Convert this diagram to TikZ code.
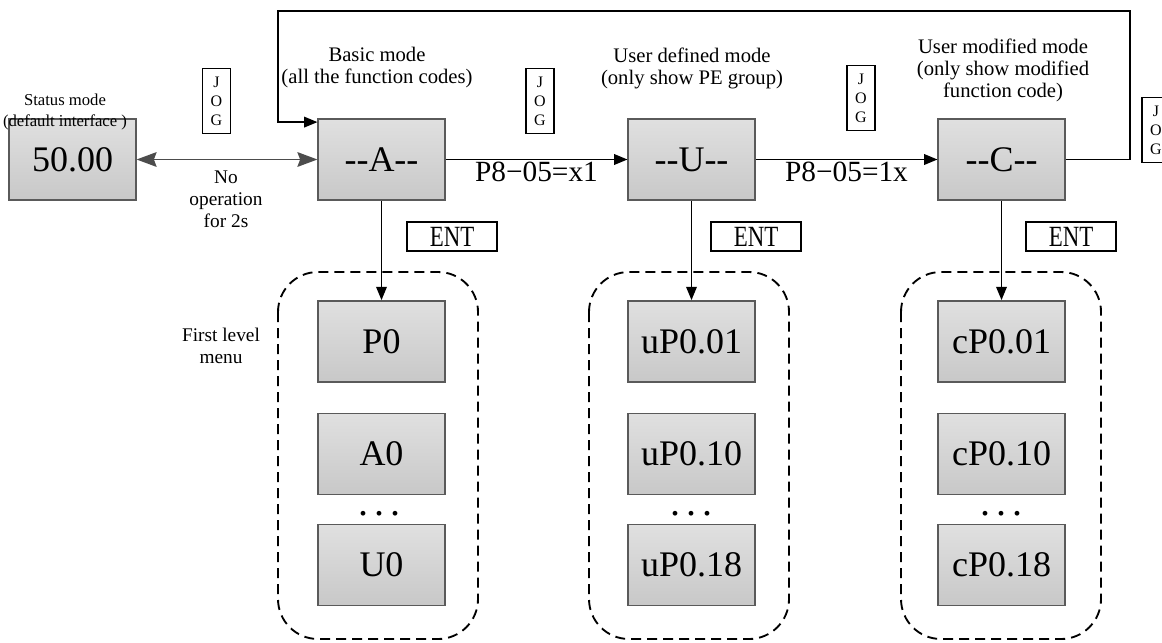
\documentclass[tikz,border=0pt]{standalone}
\usepackage{fontspec}
\setmainfont{Liberation Serif}
\usetikzlibrary{arrows.meta}
\definecolor{boxtop}{RGB}{224,224,224}
\definecolor{boxbot}{RGB}{200,200,200}
\definecolor{boxedge}{RGB}{90,90,90}
\tikzset{
  modebox/.style={draw=boxedge,line width=1.1pt,top color=boxtop,bottom color=boxbot,
    minimum width=95pt,minimum height=61pt,inner sep=0pt,font=\fontsize{27}{27}\selectfont},
  keybox/.style={draw=black,line width=1.5pt,fill=white,minimum width=67pt,minimum height=22pt,
    inner sep=0pt,font=\fontsize{22}{22}\selectfont},
  jogbox/.style={draw=black,line width=1.1pt,minimum width=21pt,minimum height=49pt,inner sep=0pt,
    align=center,font=\fontsize{12}{14.2}\selectfont},
  caption/.style={align=center,font=\fontsize{15.5}{16.5}\selectfont},
  cond/.style={font=\fontsize{22}{22}\selectfont,inner sep=1pt},
  group/.style={draw=black,line width=1.4pt,dash pattern=on 7.5pt off 4.5pt,rounded corners=30pt},
  arr/.style={draw=black,line width=1.1pt,-{Triangle[length=10pt,width=8pt]}},
  both/.style={draw=black!70,line width=1.3pt,{Stealth[length=15pt,width=11pt,inset=2pt]}-{Stealth[length=15pt,width=11pt,inset=2pt]}}
}
\newcommand{\keytext}[1]{\scalebox{0.78}[1]{#1}}

\begin{document}
\begin{tikzpicture}[x=0.75pt,y=-0.75pt]
  \useasboundingbox (0,0) rectangle (1162,642);

  % Dashed groups of first level menus
  \draw[group] (278,272) rectangle (478,639);
  \draw[group] (589,272) rectangle (789,639);
  \draw[group] (901,272) rectangle (1101,639);

  % Mode boxes
  \node[modebox] (st) at (72.5,159.5) {50.00};
  \node[modebox] (A) at (381.5,159.5) {-{}-A-{}-};
  \node[modebox] (U) at (691.5,159.5) {-{}-U-{}-};
  \node[modebox] (C) at (1001.5,159.5) {-{}-C-{}-};

  % Mode captions
  \node[caption,font=\fontsize{12.5}{16}\selectfont] (stcap) at (65,112) {Status mode\\(default interface )};
  \node[caption] (Acap) at (377,68) {Basic mode\\(all the function codes)};
  \node[caption] (Ucap) at (692,68) {User defined mode\\(only show PE group)};
  \node[caption] (Ccap) at (1003,70) {User modified mode\\(only show modified\\function code)};

  % JOG keys
  \node[jogbox] (jog1) at (216.5,101) {J\\O\\G};
  \node[jogbox] (jog2) at (540,101) {J\\O\\G};
  \node[jogbox] (jog3) at (861,98) {J\\O\\G};
  \node[jogbox] (jog4) at (1156,130) {J\\O\\G};

  % First level menus
  \node[modebox] (P0) at (381.5,341.5) {P0};
  \node[modebox] (A0) at (381.5,454) {A0};
  \node[modebox] (U0) at (381.5,565) {U0};
  \node[modebox] (uP01) at (691.5,341.5) {uP0.01};
  \node[modebox] (uP10) at (691.5,454) {uP0.10};
  \node[modebox] (uP18) at (691.5,565) {uP0.18};
  \node[modebox] (cP01) at (1001.5,341.5) {cP0.01};
  \node[modebox] (cP10) at (1001.5,454) {cP0.10};
  \node[modebox] (cP18) at (1001.5,565) {cP0.18};
  \foreach \gx/\gn in {379/adots,691/udots,1001/cdots}
    \node[font=\fontsize{30}{30}\selectfont] (\gn) at (\gx,514) {.\hspace{4.5pt}.\hspace{4.5pt}.};
  \node[caption,font=\fontsize{14.5}{16.5}\selectfont] (menucap) at (221,346) {First level\\menu};

  % ENT keys
  \node[keybox] (entA) at (452,236.5) {\keytext{ENT}};
  \node[keybox] (entU) at (756,236.5) {\keytext{ENT}};
  \node[keybox] (entC) at (1071,236.5) {\keytext{ENT}};

  % Connections
  \draw[both] (st) -- (A);
  \node[caption,font=\fontsize{14.5}{16.5}\selectfont] (idle) at (226,199) {No\\operation\\for 2s};
  \draw[arr] (A) -- node[cond,below] (cond1) {P8−05=x1} (U);
  \draw[arr] (U) -- node[cond,below] (cond2) {P8−05=1x} (C);
  \draw[arr] (A) -- (P0);
  \draw[arr] (U) -- (uP01);
  \draw[arr] (C) -- (cP01);

  % JOG loop back to basic mode
  \coordinate (loopR) at (1130,11);
  \coordinate (loopL) at (278,11);
  \draw[arr] (C.east) -| (loopR) -- (loopL) |- ([yshift=-3pt]A.north west);
\end{tikzpicture}
\end{document}
